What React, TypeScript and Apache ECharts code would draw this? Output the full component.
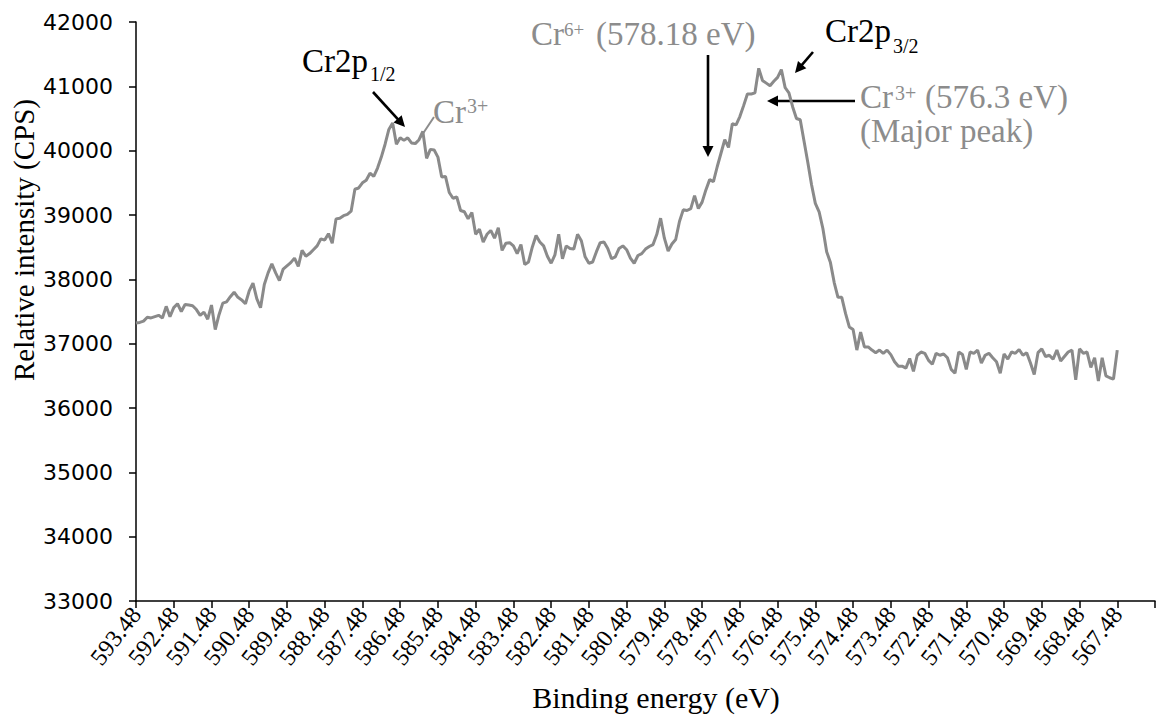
import { useEffect, useRef } from "react";
import * as echarts from "echarts";

// Binding-energy grid: 0.1 eV steps from 593.48 eV down to 566.48 eV
const START_EV = 593.48;
const STEP_EV = 0.1;
const CATEGORY_COUNT = 271;
const energies: string[] = Array.from({ length: CATEGORY_COUNT }, (_, i) =>
  (START_EV - STEP_EV * i).toFixed(2)
);
const UNLABELLED_TICK = energies[CATEGORY_COUNT - 1];

// Y axis scale (CPS)
const Y_MIN = 33000;
const Y_MAX = 42000;
const Y_STEP = 1000;

// Cr 2p spectrum, counts per second, one value per 0.1 eV from 593.48 eV
const intensity: number[] = [
  37320, 37330, 37350, 37410, 37400, 37420, 37440, 37400, 37580, 37420,
  37560, 37620, 37500, 37610, 37600, 37590, 37530, 37440, 37490, 37380,
  37600, 37220, 37450, 37630, 37650, 37730, 37800, 37720, 37680, 37620,
  37820, 37940, 37700, 37560, 37920, 38100, 38240, 38100, 37980, 38160,
  38210, 38260, 38330, 38200, 38450, 38360, 38400, 38460, 38520, 38630,
  38610, 38710, 38560, 38940, 38950, 38990, 39010, 39060, 39400, 39420,
  39500, 39540, 39650, 39600, 39730, 39900, 40100, 40330, 40430, 40100,
  40200, 40160, 40200, 40120, 40110, 40170, 40300, 39880, 40020, 40010,
  39900, 39590, 39600, 39350, 39260, 39280, 39070, 39050, 38940, 39040,
  38700, 38780, 38580, 38700, 38760, 38640, 38800, 38450, 38560, 38570,
  38520, 38400, 38540, 38230, 38270, 38500, 38680, 38580, 38520, 38360,
  38250, 38380, 38700, 38320, 38520, 38480, 38470, 38700, 38600, 38350,
  38250, 38270, 38430, 38570, 38580, 38480, 38320, 38350, 38480, 38520,
  38460, 38330, 38250, 38370, 38400, 38470, 38510, 38540, 38700, 38950,
  38640, 38440, 38550, 38620, 38900, 39080, 39070, 39100, 39300, 39100,
  39200, 39390, 39550, 39520, 39750, 39960, 40170, 40050, 40420, 40400,
  40530, 40700, 40880, 40880, 40900, 41280, 41090, 41050, 41010, 41080,
  41140, 41260, 40980, 40900, 40680, 40500, 40480, 40150, 39820, 39470,
  39180, 39050, 38790, 38430, 38260, 37950, 37720, 37720, 37470, 37260,
  37220, 36900, 37180, 36950, 36950, 36900, 36860, 36900, 36850, 36900,
  36830, 36720, 36650, 36650, 36620, 36770, 36570, 36820, 36870, 36850,
  36740, 36680, 36850, 36820, 36840, 36780, 36600, 36540, 36870, 36830,
  36600, 36870, 36850, 36900, 36700, 36820, 36850, 36780, 36720, 36540,
  36840, 36760, 36870, 36850, 36910, 36820, 36860, 36700, 36520, 36860,
  36920, 36800, 36820, 36760, 36900, 36730, 36800, 36870, 36900, 36440,
  36920, 36850, 36870, 36630, 36780, 36420, 36780, 36500, 36470, 36450,
  36900,
];

const SERIF = "Liberation Serif, Times New Roman, serif";
const SANS = "DejaVu Sans, sans-serif";
const GREY = "#8c8c8c";
const BIG = 33;
const SMALL = 20;

function label(
  text: string,
  x: number,
  y: number,
  size: number,
  color: string
) {
  return {
    type: "text",
    x,
    y,
    silent: true,
    style: {
      text,
      fontFamily: SERIF,
      fontSize: size,
      fill: color,
      align: "left",
      verticalAlign: "middle",
      textAlign: "left",
      textVerticalAlign: "middle",
    },
  };
}

// Straight arrow from a tail point to a tip point with a filled head
function arrow(x1: number, y1: number, x2: number, y2: number, color = "#000") {
  const dx = x2 - x1;
  const dy = y2 - y1;
  const len = Math.hypot(dx, dy);
  const ux = dx / len;
  const uy = dy / len;
  const headLen = 11;
  const halfW = 5.5;
  const bx = x2 - ux * headLen;
  const by = y2 - uy * headLen;
  return [
    {
      type: "line",
      silent: true,
      shape: { x1, y1, x2: bx + ux * 2, y2: by + uy * 2 },
      style: { stroke: color, lineWidth: 2.6 },
    },
    {
      type: "polygon",
      silent: true,
      shape: {
        points: [
          [x2, y2],
          [bx - uy * halfW, by + ux * halfW],
          [bx + uy * halfW, by - ux * halfW],
        ],
      },
      style: { fill: color },
    },
  ];
}

export default function App() {
  const ref = useRef<HTMLDivElement>(null);

  useEffect(() => {
    if (!ref.current) return;
    const chart = echarts.init(ref.current, null, { renderer: "svg" });

    chart.setOption({
      animation: false,
      backgroundColor: "#ffffff",
      grid: { left: 136, top: 22, width: 1019, height: 579, containLabel: false },
      xAxis: {
        type: "category",
        data: energies,
        boundaryGap: false,
        axisLine: { lineStyle: { color: "#000", width: 1.5 } },
        axisTick: {
          show: true,
          inside: false,
          length: 7,
          interval: (idx: number) => idx % 10 === 0,
          lineStyle: { color: "#000", width: 1.5 },
        },
        axisLabel: {
          interval: (idx: number) => idx % 10 === 0,
          rotate: 52,
          margin: 9,
          color: "#000",
          fontFamily: SERIF,
          fontSize: 24,
          formatter: (v: string) => (v === UNLABELLED_TICK ? "" : v),
        },
        splitLine: { show: false },
      },
      yAxis: {
        type: "value",
        min: Y_MIN,
        max: Y_MAX,
        interval: Y_STEP,
        axisLine: { show: true, lineStyle: { color: "#000", width: 1.5 } },
        axisTick: {
          show: true,
          inside: false,
          length: 7,
          lineStyle: { color: "#000", width: 1.5 },
        },
        axisLabel: {
          margin: 23,
          color: "#000",
          fontFamily: SANS,
          fontSize: 22,
          formatter: (v: number) => String(v),
        },
        splitLine: { show: false },
      },
      series: [
        {
          type: "line",
          data: intensity,
          showSymbol: false,
          symbol: "none",
          smooth: false,
          lineStyle: { color: "#8a8a8a", width: 3 },
          z: 2,
        },
      ],
      graphic: [
        {
          type: "text",
          x: 24,
          y: 240,
          rotation: Math.PI / 2,
          silent: true,
          style: {
            text: "Relative intensity (CPS)",
            fontFamily: SERIF,
            fontSize: 29,
            fill: "#000",
            align: "center",
            verticalAlign: "middle",
            textAlign: "center",
            textVerticalAlign: "middle",
          },
        },
        {
          type: "text",
          x: 656,
          y: 697,
          silent: true,
          style: {
            text: "Binding energy (eV)",
            fontFamily: SERIF,
            fontSize: 30,
            fill: "#000",
            align: "center",
            verticalAlign: "middle",
            textAlign: "center",
            textVerticalAlign: "middle",
          },
        },
        // Cr2p1/2 with its pointer
        label("Cr2p", 302, 61, BIG, "#000"),
        label("1/2", 370, 74, SMALL, "#000"),
        ...arrow(373, 92, 405, 127),
        // Cr3+ of the 2p1/2 peak with leader line
        label("Cr", 433, 112, BIG, GREY),
        label("3+", 467, 106, SMALL, GREY),
        {
          type: "line",
          silent: true,
          shape: { x1: 434, y1: 117, x2: 420, y2: 138 },
          style: { stroke: GREY, lineWidth: 2 },
        },
        // Cr6+ (578.18 eV)
        label("Cr", 531, 34, BIG, GREY),
        label("6+", 564, 29, SMALL - 1, GREY),
        label("(578.18 eV)", 596, 34, BIG, GREY),
        ...arrow(708, 55, 708, 157),
        // Cr2p3/2
        label("Cr2p", 825, 31, BIG, "#000"),
        label("3/2", 893, 46, SMALL, "#000"),
        ...arrow(813, 52, 795, 73),
        // Cr3+ (576.3 eV) major peak
        label("Cr", 860, 97, BIG, GREY),
        label("3+", 895, 93, SMALL, GREY),
        label("(576.3 eV)", 925, 97, BIG, GREY),
        label("(Major peak)", 860, 131, BIG, GREY),
        ...arrow(855, 101, 767, 101),
      ],
    });

    return () => chart.dispose();
  }, []);

  return (
    <div
      ref={ref}
      style={{
        position: "fixed",
        left: 0,
        top: 0,
        width: 1167,
        height: 715,
        background: "#ffffff",
      }}
    />
  );
}
